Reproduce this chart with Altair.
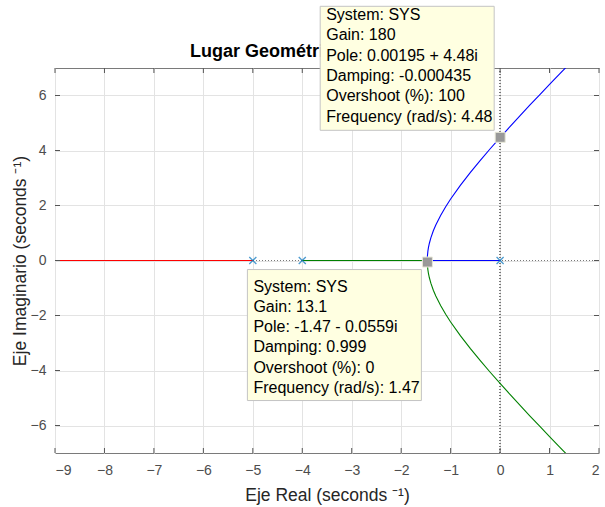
import altair as alt
import pandas as pd

# ---- data ----
x_ticks = [-9, -8, -7, -6, -5, -4, -3, -2, -1, 0, 1, 2]
y_ticks = [-6, -4, -2, 0, 2, 4, 6]

pole_re = [-5, -4, 0]
pole_im = [0, 0, 0]

# complex branch (upper half, blue); lower half (green) is its mirror
branch_re = [-1.4725, -1.47, -1.46, -1.45, -1.43, -1.40, -1.35, -1.30, -1.20, -1.10,
             -1.00, -0.80, -0.60, -0.40, -0.20, 0.00, 0.20, 0.40, 0.60, 0.80, 1.00,
             1.20, 1.40]
branch_im_up = [0.000, 0.151, 0.339, 0.456, 0.628, 0.825, 1.081, 1.292, 1.649, 1.957,
                2.236, 2.742, 3.206, 3.644, 4.064, 4.472, 4.870, 5.261, 5.646, 6.027,
                6.403, 6.776, 7.147]
branch_im_down = [-0.000, -0.151, -0.339, -0.456, -0.628, -0.825, -1.081, -1.292, -1.649,
                  -1.957, -2.236, -2.742, -3.206, -3.644, -4.064, -4.472, -4.870, -5.261,
                  -5.646, -6.027, -6.403, -6.776, -7.147]

# real-axis segments
blue_real_re = [0.0, -1.4725]
green_real_re = [-4.0, -1.4725]
red_real_re = [-5.0, -9.5]

tip_re = [0.00195, -1.47]
tip_im = [4.48, -0.0559]
tip1_lines = ["System: SYS", "Gain: 180", "Pole: 0.00195 + 4.48i", "Damping: -0.000435",
              "Overshoot (%): 100", "Frequency (rad/s): 4.48"]
tip2_lines = ["System: SYS", "Gain: 13.1", "Pole: -1.47 - 0.0559i", "Damping: 0.999",
              "Overshoot (%): 0", "Frequency (rad/s): 1.47"]

title_text = "Lugar Geométrico de las Raíces"
x_title = "Eje Real (seconds \u207b\u00b9)"
y_title = "Eje Imaginario (seconds \u207b\u00b9)"

# ---- tables ----
W, H = 544, 385
FONT = "Liberation Sans"

blue_df = pd.DataFrame({
    "re": blue_real_re + branch_re,
    "im": [0.0] * len(blue_real_re) + branch_im_up,
})
blue_df["o"] = range(len(blue_df))
green_df = pd.DataFrame({
    "re": green_real_re + branch_re,
    "im": [0.0] * len(green_real_re) + branch_im_down,
})
green_df["o"] = range(len(green_df))
red_df = pd.DataFrame({"re": red_real_re, "im": [0.0, 0.0]})
red_df["o"] = range(len(red_df))

poles_df = pd.DataFrame({"re": pole_re, "im": pole_im})
tip1_df = pd.DataFrame({"re": [tip_re[0]], "im": [tip_im[0]], "t": ["\n".join(tip1_lines)]})
tip2_df = pd.DataFrame({"re": [tip_re[1]], "im": [tip_im[1]], "t": ["\n".join(tip2_lines)]})
xt_df = pd.DataFrame({"v": x_ticks})
yt_df = pd.DataFrame({"v": y_ticks})

xs = alt.Scale(domain=[-9, 2], nice=False, zero=False)
ys = alt.Scale(domain=[-7, 7], nice=False, zero=False)

X = alt.X("re:Q", scale=xs, axis=alt.Axis(values=x_ticks, title=x_title, format="d"))
Y = alt.Y("im:Q", scale=ys, axis=alt.Axis(values=y_ticks, title=y_title, format="d"))

base_grid = alt.Chart(poles_df).mark_point(opacity=0).encode(x=X, y=Y)

zero_h = alt.Chart(yt_df).mark_rule(color="#777777", strokeDash=[1, 2], strokeWidth=0.8).encode(
    y=alt.datum(0, scale=ys))
zero_v = alt.Chart(xt_df).mark_rule(color="#777777", strokeDash=[1, 2], strokeWidth=0.8).encode(
    x=alt.datum(0, scale=xs))

def branch(df, color):
    return alt.Chart(df).mark_line(color=color, strokeWidth=1.1, clip=True).encode(
        x=alt.X("re:Q", scale=xs), y=alt.Y("im:Q", scale=ys), order="o:Q")

blue = branch(blue_df, "#0000ff")
green = branch(green_df, "#008000")
red = branch(red_df, "#ff0000")

poles = alt.Chart(poles_df).mark_point(
    shape="M-1,-1L1,1M-1,1L1,-1", size=50, filled=False, color="#0072BD", strokeWidth=1.3
).encode(x=alt.X("re:Q", scale=xs), y=alt.Y("im:Q", scale=ys))

tick_color = "#555555"
xt_bot = alt.Chart(xt_df).mark_rule(color=tick_color).encode(
    x=alt.X("v:Q", scale=xs), y=alt.value(H), y2=alt.value(H - 5))
xt_top = alt.Chart(xt_df).mark_rule(color=tick_color).encode(
    x=alt.X("v:Q", scale=xs), y=alt.value(0), y2=alt.value(5))
yt_l = alt.Chart(yt_df).mark_rule(color=tick_color).encode(
    y=alt.Y("v:Q", scale=ys), x=alt.value(0), x2=alt.value(5))
yt_r = alt.Chart(yt_df).mark_rule(color=tick_color).encode(
    y=alt.Y("v:Q", scale=ys), x=alt.value(W), x2=alt.value(W - 5))

title_mark = alt.Chart(pd.DataFrame({"t": [title_text]})).mark_text(
    font=FONT, fontSize=18, fontWeight="bold", color="#000000", align="center",
    baseline="alphabetic"
).encode(text="t:N", x=alt.value(W / 2), y=alt.value(-11))

def tip_layers(df, top, bottom, dy):
    enc = dict(x=alt.X("re:Q", scale=xs), y=alt.Y("im:Q", scale=ys))
    sq = alt.Chart(df).mark_square(size=100, color="#999999", opacity=1,
                                   stroke="#e8e8d8", strokeWidth=1).encode(**enc)
    box = alt.Chart(df).mark_rect(
        fill="#ffffe1", stroke="#c4c4c4", strokeWidth=1,
        xOffset=-180, x2Offset=-6, yOffset=top, y2Offset=bottom
    ).encode(x=alt.X("re:Q", scale=xs), x2="re:Q", y=alt.Y("im:Q", scale=ys), y2="im:Q")
    txt = alt.Chart(df).mark_text(
        font=FONT, fontSize=16, color="#000000", align="left", baseline="alphabetic",
        lineBreak="\n", lineHeight=20.3, dx=-174, dy=dy
    ).encode(text="t:N", **enc)
    return [sq, box, txt]

layers = [base_grid, zero_h, zero_v, red, green, blue, poles,
          xt_bot, xt_top, yt_l, yt_r, title_mark]
layers += tip_layers(tip2_df, 7.5, 138.5, 29.5)
layers += tip_layers(tip1_df, -131, -7, -117.3)

chart = alt.layer(*layers).properties(
    width=W, height=H,
    background="white",
    autosize=alt.AutoSizeParams(type="none"),
    padding={"left": 55, "top": 68, "right": 6, "bottom": 54},
).configure_view(
    stroke="#7a7a7a", strokeWidth=1
).configure_axis(
    grid=True, gridColor="#e3e3e3", gridWidth=1, ticks=False, domain=False,
    labelFont=FONT, labelFontSize=14, labelColor="#4d4d4d",
    titleFont=FONT, titleFontSize=17.5, titleFontWeight="normal", titleColor="#262626",
).configure_axisX(
    labelPadding=10, titlePadding=9
).configure_axisY(
    labelPadding=9, titlePadding=1
)

chart.save("out.html", embed_options={"renderer": "svg", "actions": False})
